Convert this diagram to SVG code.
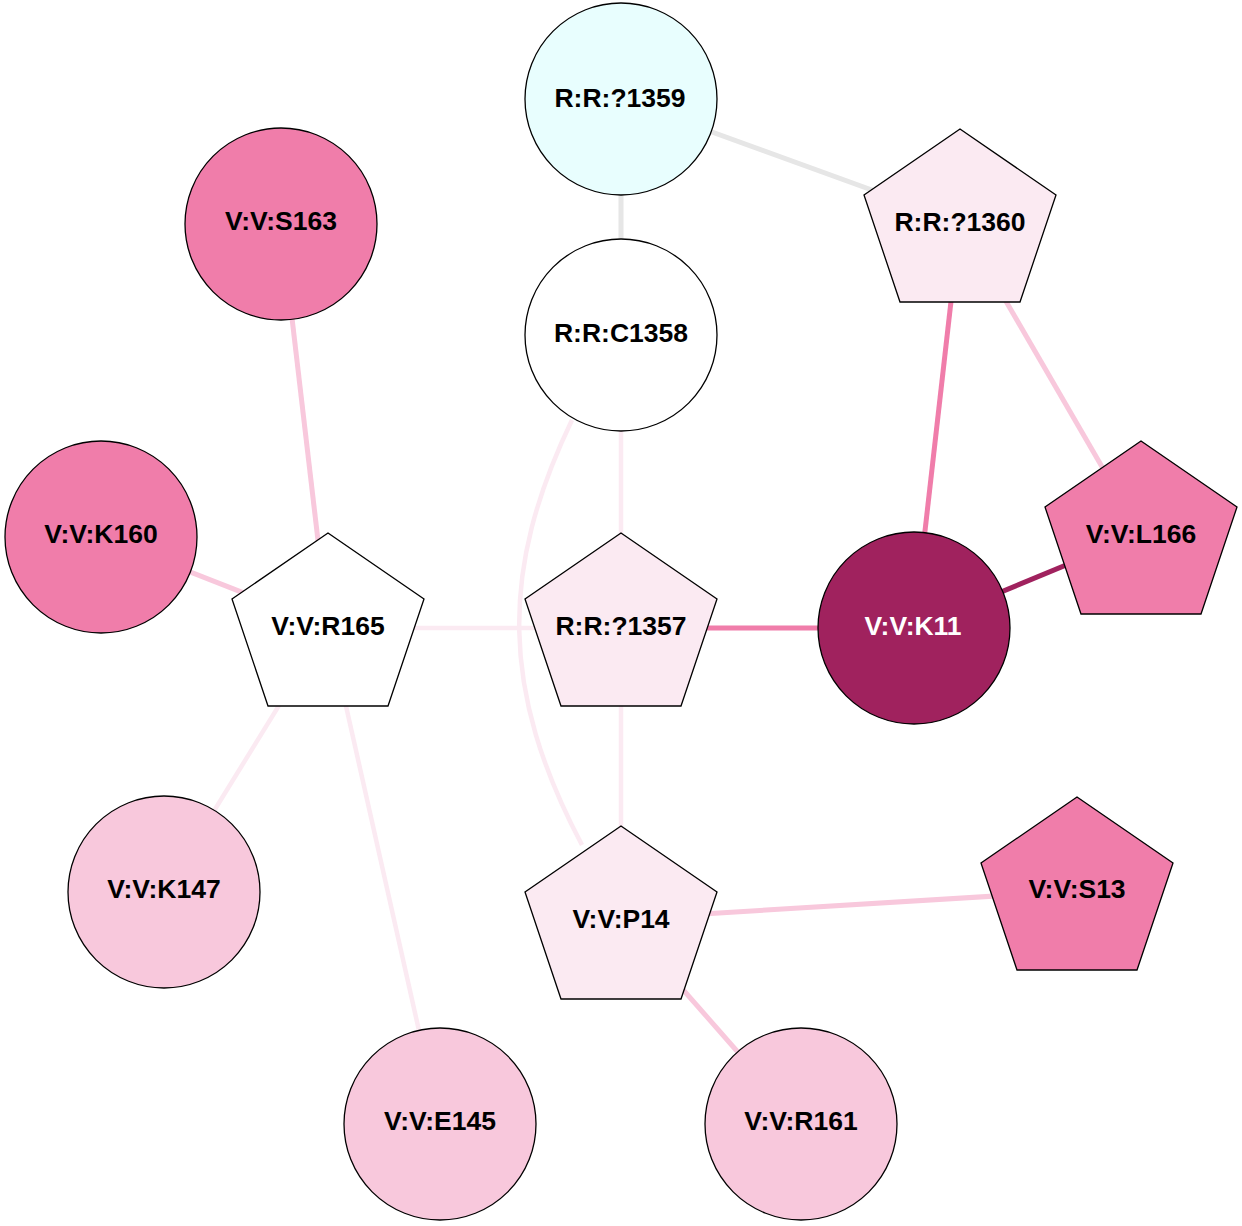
<svg xmlns="http://www.w3.org/2000/svg" width="1242" height="1226" viewBox="0 0 1242 1226">
<style>
.n{stroke:#000;stroke-width:1.3}
.t{font-family:"Liberation Sans",Arial,sans-serif;font-weight:bold;font-size:26.5px;text-anchor:middle;fill:#000}
.w{fill:#fff}
.e{fill:none;stroke-linecap:butt}
.g{stroke:#e6e6e6;stroke-width:5}
.p1{stroke:#fbeaf2;stroke-width:4.5}
.p2{stroke:#f8c8dc;stroke-width:5}
.p3{stroke:#f07daa;stroke-width:5}
.p4{stroke:#a0225e;stroke-width:5}
</style>
<rect width="1242" height="1226" fill="#fff"/>
<g id="edges">
<line class="e g" x1="621" y1="99" x2="960" y2="222"/>
<line class="e g" x1="621" y1="99" x2="621" y2="335"/>
<line class="e p3" x1="960" y1="222" x2="914" y2="628"/>
<line class="e p2" x1="960" y1="222" x2="1141" y2="534"/>
<line class="e p4" x1="914" y1="628" x2="1141" y2="534"/>
<line class="e p3" x1="621" y1="628" x2="914" y2="628"/>
<line class="e p1" x1="328" y1="628" x2="621" y2="628"/>
<line class="e p1" x1="621" y1="335" x2="621" y2="626"/>
<line class="e p1" x1="621" y1="626" x2="621" y2="919"/>
<path class="e p1" d="M572,420 C500,570 500,690 582,845"/>
<line class="e p2" x1="281" y1="224" x2="328" y2="626"/>
<line class="e p2" x1="101" y1="537" x2="328" y2="626"/>
<line class="e p1" x1="328" y1="626" x2="164" y2="892"/>
<line class="e p1" x1="328" y1="626" x2="440" y2="1124"/>
<line class="e p2" x1="621" y1="919" x2="1077" y2="891"/>
<line class="e p2" x1="621" y1="919" x2="801" y2="1124"/>
</g>
<g id="n_R1359"><circle class="n" cx="621" cy="99" r="96" fill="#e8fefe"/><text class="t" x="620" y="107">R:R:?1359</text></g>
<g id="n_R1360"><polygon class="n" fill="#fbeaf2" points="960,129 1056,195 1020,302 900,302 864,195"/><text class="t" x="960" y="231">R:R:?1360</text></g>
<g id="n_C1358"><circle class="n" cx="621" cy="335" r="96" fill="#fff"/><text class="t" x="621" y="342">R:R:C1358</text></g>
<g id="n_S163"><circle class="n" cx="281" cy="224" r="96" fill="#f07daa"/><text class="t" x="281" y="230">V:V:S163</text></g>
<g id="n_K160"><circle class="n" cx="101" cy="537" r="96" fill="#f07daa"/><text class="t" x="101" y="543">V:V:K160</text></g>
<g id="n_R165"><polygon class="n" fill="#fff" points="328,533 424,599 388,706 268,706 232,599"/><text class="t" x="328" y="635">V:V:R165</text></g>
<g id="n_R1357"><polygon class="n" fill="#fbeaf2" points="621,533 717,599 681,706 561,706 525,599"/><text class="t" x="621" y="635">R:R:?1357</text></g>
<g id="n_K11"><circle class="n" cx="914" cy="628" r="96" fill="#a0225e"/><text class="t w" x="913" y="635">V:V:K11</text></g>
<g id="n_L166"><polygon class="n" fill="#f07daa" points="1141,441 1237,507 1201,614 1081,614 1045,507"/><text class="t" x="1141" y="543">V:V:L166</text></g>
<g id="n_K147"><circle class="n" cx="164" cy="892" r="96" fill="#f8c8dc"/><text class="t" x="164" y="898">V:V:K147</text></g>
<g id="n_P14"><polygon class="n" fill="#fbeaf2" points="621,826 717,892 681,999 561,999 525,892"/><text class="t" x="621" y="928">V:V:P14</text></g>
<g id="n_S13"><polygon class="n" fill="#f07daa" points="1077,797 1173,863 1137,970 1017,970 981,863"/><text class="t" x="1077" y="898">V:V:S13</text></g>
<g id="n_E145"><circle class="n" cx="440" cy="1124" r="96" fill="#f8c8dc"/><text class="t" x="440" y="1130">V:V:E145</text></g>
<g id="n_R161"><circle class="n" cx="801" cy="1124" r="96" fill="#f8c8dc"/><text class="t" x="801" y="1130">V:V:R161</text></g>
</svg>
